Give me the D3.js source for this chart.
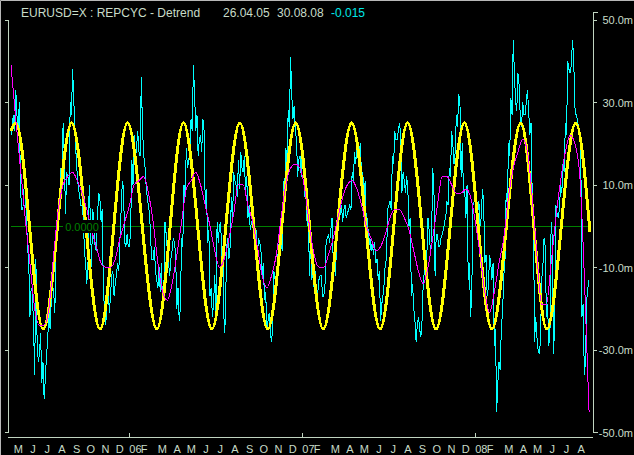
<!DOCTYPE html>
<meta charset="utf-8">
<style>
body { margin: 0; background: #000; }
svg { display: block; }
.axis line, .axis path { stroke: #c0d4c0; shape-rendering: crispEdges; }
.axis text { fill: #c8dcc8; font-family: "Liberation Sans", Arial, sans-serif; font-size: 11px; }
.title { font-family: "Liberation Sans", Arial, sans-serif; font-size: 12px; fill: #c8dcc8; }
.month { font-family: "Liberation Sans", Arial, sans-serif; font-size: 11px; fill: #c8dcc8; }
.series { fill: none; shape-rendering: crispEdges; }
</style>
<body>
<script src="https://cdnjs.cloudflare.com/ajax/libs/d3/7.8.5/d3.min.js"></script>
<script>

// range of the chart
var startDate = "2005-04-26",
    endDate = "2008-08-30";

var yTicks = [50, 30, 10, -10, -30, -50];
var monthLetters = ["J", "F", "M", "A", "M", "J", "J", "A", "S", "O", "N", "D"];

// yellow dominant cycle: turning points (value in m)
var cycleDates = ["2005-04-26", "2005-05-06", "2005-07-03", "2005-09-01", "2005-10-31", "2005-12-28",
  "2006-02-28", "2006-04-25", "2006-06-24", "2006-08-22", "2006-10-20", "2006-12-18",
  "2007-02-14", "2007-04-15", "2007-06-14", "2007-08-11", "2007-10-10", "2007-12-09",
  "2008-02-05", "2008-04-06", "2008-05-31", "2008-07-31", "2008-08-30"];
var cycleValues = [23, 25, -25, 25, -25, 25, -25, 25, -25, 25, -25, 25,
  -25, 25, -25, 25, -25, 25, -25, 25, -25, 25, -1.5];

// cyan detrended price, one value every 2.5 days from startDate
var priceStep = 2.5;
var price = [
  22, 24, 27, 23, 33, 27, 23, 30, 9, 4, 4, 9, 9, 2, -5, -9, -22, -15, -16, -24,
  -36, -8, -27, -33, -31, -26, -38, -33, -42, -37, -31, -28, -19, -25, -18, -14, -16, -21, -6, -1,
  5, 3, 14, 11, 25, 17, 3, 13, 12, 10, 30, 27, 38, 31, 22, 17, 12, 9, 7, 5,
  5, 2, -6, -9, -14, -9, 10, 2, -10, 4, 1, -5, -6, 2, 8, 7, 1, 4, -16, -20,
  -24, -18, -14, -21, -17, -12, -11, -17, -14, -12, -9, -11, -3, 4, 11, 9, -4, -5, -2, -5,
  -5, -1, 16, 10, 22, 16, 19, 23, 18, 17, 36, 24, 17, 15, 10, 7, 5, 3, -4, -8,
  -8, -5, -11, -13, -15, -10, -16, -9, -20, -16, 1, -2, -6, -9, -12, -8, -6, -3, -4, -7,
  -20, -15, -23, -20, -3, -5, 10, 7, 19, 14, 16, 18, 26, 23, 39, 32, 23, 27, 17, 21,
  22, 18, 26, 23, 5, 9, -4, -1, -17, -15, -22, -19, -12, -21, 1, -4, 0, 1, -8, -5,
  -26, -23, -5, -3, -8, -5, 7, 1, 13, 11, 10, 7, 16, 9, 18, 14, 13, 17, 8, 12,
  2, 5, -1, 1, 1, -2, -3, -1, -7, -3, -4, -6, -12, -9, -18, -16, -25, -23, -21, -26,
  -28, -24, -11, -13, -14, -8, -5, -3, -4, -6, 11, 8, 19, 15, 28, 24, 41, 32, 26, 29,
  23, 21, 12, 16, 17, 12, 20, 17, 7, 12, 0, 2, -12, -3, -13, -9, -16, -11, -18, -16,
  -13, -12, -12, -17, -17, -15, -4, -3, -2, -4, -1, 2, -8, -6, -12, -2, 4, 2, 3, 5,
  1, 4, 5, 2, 3, 4, 5, 4, 13, 11, 18, 15, 20, 17, 18, 20, 11, 13, 6, 11,
  0, 2, -5, -3, -6, -4, -7, -4, -9, -8, -13, -11, -23, -19, -17, -14, -9, -8, 4, 5,
  6, 4, 17, 15, 23, 21, 21, 23, 25, 22, 8, 13, 11, 8, 12, 9, 0, 2, -17, -14,
  -20, -23, -28, -24, -22, -25, -27, -23, -14, -11, -9, -8, 2, -1, -6, -4, 14, 10, -12, -2,
  -2, -5, -5, -3, -2, -1, 1, 2, 6, 5, 14, 12, 23, 20, 15, 18, 27, 24, 32, 30,
  12, 20, 8, 9, 2, 10, -13, -9, -22, -16, 5, 6, 7, 5, 3, 6, 0, 2, 9, 6,
  -9, -7, -17, -15, -7, -9, -13, -9, -29, -25, -45, -38, -33, -35, -24, -21, -12, -9, 8, 5,
  20, 17, 31, 27, 45, 37, 30, 28, 37, 34, 26, 24, 30, 27, 27, 30, 33, 28, 22, 25,
  8, 4, -28, -22, -27, -30, -31, -28, -13, -10, -3, -5, -22, -19, -29, -26, 1, -3, -31, -24,
  5, 3, 2, 4, 10, 8, 15, 13, 25, 22, 40, 38, 37, 39, 45, 41, 29, 27, 26, 24,
  22, 20, -22, -19, -36, -33, -18, -15, -13];

// magenta smoothed cycle, one value every 10 days from startDate
var smoothStep = 10;
var smooth = [39, 26, 14, 2, -9, -20, -24, -24, -20, -7,
  4, 10, 12, 13, 11, 8, 4, -1, -5, -9,
  -10, -10, -8, -3, 1, 5, 10, 11, 12, 8,
  1, -9, -16, -18, -14, -7, 1, 9, 11, 13,
  10, 5, 0, -6, -10, -8, -3, 3, 10, 10,
  5, 1, -5, -12, -15, -12, -7, 2, 10, 14,
  15, 14, 9, 0, -7, -10, -10, -7, -3, 2,
  7, 10, 11, 9, 5, 0, -3, -6, -5, -2,
  2, 4, 4, 2, -1, -6, -11, -14, -10, -3,
  5, 12, 12, 10, 8, 8, 9, 7, 1, -7,
  -16, -21, -16, -9, -3, 7, 14, 18, 21, 18,
  7, -7, -19, -19, -9, 2, 11, 18, 22, 20,
  13, -12, -45];

var parse = d3.utcParse("%Y-%m-%d");
var t0 = parse(startDate), t1 = parse(endDate);
var DAY = 864e5;

var x = d3.scaleUtc().domain([t0, t1]).range([11, 590]);
var y = d3.scaleLinear().domain([-50, 50]).range([432.25, 19.75]);

var svg = d3.select("body").append("svg")
    .attr("width", 634)
    .attr("height", 455);

svg.append("rect").attr("width", 634).attr("height", 455).attr("fill", "#000");

// window edge
svg.append("path")
    .attr("d", "M0.5,455V0.5H634")
    .attr("fill", "none")
    .attr("stroke", "#b8b8b8");

// title
var title = svg.append("text").attr("class", "title").attr("y", 17);
title.append("tspan").attr("x", 21).text("EURUSD=X : REPCYC - Detrend");
title.append("tspan").attr("x", 223).text("26.04.05");
title.append("tspan").attr("x", 277).text("30.08.08");
title.append("tspan").attr("x", 331).style("fill", "#00e8e8").text("-0.015");

// zero line
var y0 = Math.round(y(0)) + 0.5;
svg.append("line")
    .attr("x1", x(t0)).attr("x2", x(t1))
    .attr("y1", y0).attr("y2", y0)
    .attr("stroke", "#008000")
    .attr("shape-rendering", "crispEdges");

// cyan price
svg.append("path")
    .datum(price)
    .attr("class", "series")
    .attr("d", d3.line()
        .x(function(d, i) { return x(new Date(+t0 + i * priceStep * DAY)); })
        .y(function(d) { return y(d); }))
    .attr("stroke", "#00ffff")
    .attr("stroke-width", 1);

// yellow cycle
var cycle = cycleDates.map(function(d, i) { return {date: parse(d), value: cycleValues[i]}; });
svg.append("path")
    .datum(cycle)
    .attr("class", "series")
    .attr("d", d3.line()
        .x(function(d) { return x(d.date); })
        .y(function(d) { return y(d.value); })
        .curve(d3.curveMonotoneX))
    .attr("stroke", "#ffff00")
    .attr("stroke-width", 3);

// magenta smooth
svg.append("path")
    .datum(smooth)
    .attr("class", "series")
    .attr("d", d3.line()
        .x(function(d, i) { return x(new Date(+t0 + i * smoothStep * DAY)); })
        .y(function(d) { return y(d); })
        .curve(d3.curveMonotoneX))
    .attr("stroke", "#ff00ff")
    .attr("stroke-width", 1);

// zero label
svg.append("rect")
    .attr("x", 63).attr("y", y0 - 6.5)
    .attr("width", 38).attr("height", 13)
    .attr("fill", "#000");
svg.append("text")
    .attr("x", 82).attr("y", y0 + 4)
    .attr("text-anchor", "middle")
    .style("font-family", "'Liberation Sans', Arial, sans-serif")
    .style("font-size", "11px")
    .style("fill", "#008000")
    .text("0.0000");

// left axis (ticks only)
svg.append("g")
    .attr("class", "axis")
    .attr("transform", "translate(8,0)")
    .call(d3.axisLeft(y).tickValues(yTicks).tickSize(3).tickSizeOuter(3).tickFormat(""));

// right axis
var yr = svg.append("g")
    .attr("class", "axis")
    .attr("transform", "translate(593,0)")
    .call(d3.axisRight(y).tickValues(yTicks).tickSize(4)
        .tickFormat(function(d) { return d.toFixed(1) + "m"; }));
yr.select(".domain")
    .attr("d", "M4.5,12.5H0.5V" + (y(-50) + 0.5) + "H4.5");
yr.selectAll("text")
    .attr("x", 40)
    .attr("text-anchor", "end")
    .attr("dy", "0.35em");

// bottom time axis
var bx = svg.append("g").attr("class", "axis");
bx.append("path").attr("d", "M8,437.5H593").attr("fill", "none");
bx.selectAll(".yeartick")
    .data(d3.utcYears(t0, t1))
    .enter().append("line")
    .attr("x1", function(d) { return Math.round(x(d)) + 0.5; })
    .attr("x2", function(d) { return Math.round(x(d)) + 0.5; })
    .attr("y1", 437.5).attr("y2", 432.5);

svg.selectAll(".month")
    .data(d3.utcMonths(d3.utcMonth.ceil(t0), t1))
    .enter().append("text")
    .attr("class", "month")
    .attr("text-anchor", "middle")
    .attr("x", function(d) {
      var m = d.getUTCMonth();
      return x(d) + (m === 0 ? 6 : m === 1 ? 0 : 5);
    })
    .attr("y", 453)
    .text(function(d) {
      var m = d.getUTCMonth();
      return m === 0 ? d3.utcFormat("%y")(d) : monthLetters[m];
    });

</script>
</body>
